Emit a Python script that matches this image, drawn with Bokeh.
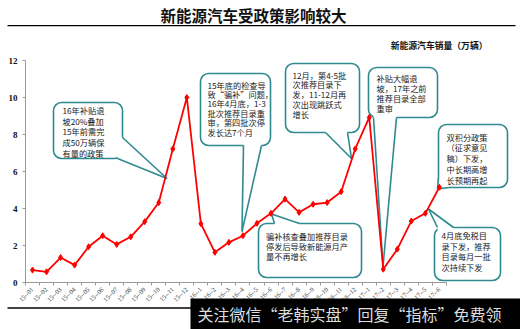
import math
from bokeh.plotting import figure
from bokeh.models import Range1d, FixedTicker, Label, BoxAnnotation
from bokeh.core.properties import value
from bokeh.embed import file_html
from bokeh.resources import INLINE

# ---------------- data ----------------
title_text = "新能源汽车受政策影响较大"
subtitle_text = "新能源汽车销量（万辆）"
months = (["15--%02d" % m for m in range(1, 13)]
          + ["16--%d" % m for m in range(1, 13)]
          + ["17--%d" % m for m in range(1, 7)])
sales = [0.67, 0.58, 1.35, 0.94, 1.93, 2.53, 2.06, 2.47, 3.29, 4.32, 7.22, 10.0,
         3.18, 1.63, 2.17, 2.53, 3.2, 3.74, 4.51, 3.79, 4.23, 4.32, 4.91, 7.22, 8.92,
         0.72, 1.8, 3.32, 3.74, 5.15]
y_ticks = [0, 2, 4, 6, 8, 10, 12]

note1 = ["16年补贴退", "坡20%叠加", "15年前需完", "成50万辆保", "有量的政策"]
note2 = ["15年底的检查导", "致“骗补”问题，", "16年4月底，1-3", "批次推荐目录重", "审，第四批次停", "发长达7个月"]
note3 = ["12月，第4-5批", "次推荐目录下", "发，11-12月再", "次出现跳跃式", "增长"]
note4 = ["补贴大幅退", "坡，17年之前", "推荐目录全部", "重审"]
note5 = ["双积分政策", "（征求意见", "稿）下发，", "中长期高增", "长预期再起"]
note6 = ["骗补核查叠加推荐目录", "停发后导致新能源月产", "量不再增长"]
note7 = ["4月底免税目", "录下发，推荐", "目录每月一批", "次持续下发"]
watermark_text = "关注微信“老韩实盘”回复“指标”免费领"

# ---------------- layout (pixel geometry of the frame) ----------------
W, H = 520, 329
AX_LEFT = 25        # pixel x of the y axis (x = -0.5)
AX_ZERO = 282       # pixel y of value 0
PX_UNIT = 18.5      # pixels per unit of sales
DXP = 14.03         # pixels per month
X0 = -0.5 - AX_LEFT / DXP
X1 = X0 + W / DXP
Y0 = -(H - AX_ZERO) / PX_UNIT
Y1 = Y0 + H / PX_UNIT
RED = "#FF0000"
TEAL = "#2F8A8F"
CJK = "Noto Sans CJK SC"


def dx(px):
    return X0 + px / DXP


def dy(py):
    return Y1 - py / PX_UNIT


p = figure(width=W, height=H, output_backend="svg", toolbar_location=None,
           x_range=Range1d(X0, X1), y_range=Range1d(Y0, Y1),
           min_border=0, min_border_left=0, min_border_right=0,
           min_border_top=0, min_border_bottom=0)
p.outline_line_color = None
p.grid.visible = False
p.background_fill_color = "white"
p.border_fill_color = "white"

# axes (drawn at fixed data locations inside the frame)
xs = list(range(len(months)))
p.xaxis.fixed_location = 0
p.xaxis.ticker = FixedTicker(ticks=xs, minor_ticks=[i - 0.5 for i in range(len(months) + 1)])
p.xaxis.major_label_overrides = {i: m for i, m in enumerate(months)}
p.xaxis.major_label_orientation = math.pi / 4
p.xaxis.major_label_text_font = "Liberation Serif"
p.xaxis.major_label_text_font_size = "6.5px"
p.xaxis.major_label_text_color = "#333333"
p.xaxis.major_label_standoff = 3
p.xaxis.major_tick_out = 0
p.xaxis.major_tick_in = 0
p.xaxis.minor_tick_out = 3
p.xaxis.minor_tick_in = 0
p.xaxis.minor_tick_line_color = "#999999"
p.xaxis.axis_line_color = "#999999"
p.xaxis.bounds = (-0.5, len(months) - 0.5)

p.yaxis.fixed_location = -0.5
p.yaxis.ticker = FixedTicker(ticks=y_ticks)
p.yaxis.bounds = (0, 12)
p.yaxis.major_label_text_font = "Liberation Serif"
p.yaxis.major_label_text_font_style = "bold"
p.yaxis.major_label_text_font_size = "9px"
p.yaxis.major_label_text_color = "#111111"
p.yaxis.major_label_standoff = 5
p.yaxis.major_tick_out = 3
p.yaxis.major_tick_in = 0
p.yaxis.minor_tick_line_color = None
p.yaxis.axis_line_color = "#999999"
p.yaxis.major_tick_line_color = "#999999"

# ---------------- callouts ----------------
callouts = [
    dict(box=(53, 102, 122, 158), tail=[(122, 137), (166.5, 178), (117, 158)], lines=note1, tx=62, ty=109.5, step=10.7),
    dict(box=(200, 73, 270, 145), tail=[(243, 145), (241.5, 231), (261, 145)], lines=note2, tx=207, ty=84, step=9.4),
    dict(box=(285, 63, 359, 132), tail=[(325, 132), (351, 158), (347, 132)], lines=note3, tx=292, ty=74, step=9.8),
    dict(box=(368, 67, 437, 117), tail=[(373, 117), (382.5, 266), (396, 117)], lines=note4, tx=376, ty=77.5, step=10),
    dict(box=(438, 124, 507, 187), tail=[(438, 177), (437, 188.5), (448, 187)], lines=note5, tx=446, ty=136, step=10.8),
    dict(box=(258, 223, 361, 277), tail=[(274, 223), (271, 213.5), (299, 223)], lines=note6, tx=265.5, ty=235, step=10),
    dict(box=(434, 227, 500, 280), tail=[(437, 227), (428, 208.5), (453, 227)], lines=note7, tx=441, ty=234.5, step=10.6),
]


def inset(pt, box):
    L, T, R, B = box
    x, y = pt
    ox = oy = 0
    if y >= B - 0.5:
        oy = -2.5
    if y <= T + 0.5:
        oy = 2.5
    if x >= R - 0.5:
        ox = -2.5
    if x <= L + 0.5:
        ox = 2.5
    return (x + ox, y + oy)


for c in callouts:
    L, T, R, B = c["box"]
    p.quad(left=[dx(L)], right=[dx(R)], top=[dy(T)], bottom=[dy(B)], border_radius=8,
           fill_color="white", line_color=TEAL, line_width=1.6)
    a, tip, b = c["tail"]
    ai, bi = inset(a, c["box"]), inset(b, c["box"])
    poly = [ai, a, tip, b, bi]
    p.patch(x=[dx(q[0]) for q in poly], y=[dy(q[1]) for q in poly],
            fill_color="white", line_color=None)
    p.multi_line(xs=[[dx(a[0]), dx(tip[0])], [dx(b[0]), dx(tip[0])]],
                 ys=[[dy(a[1]), dy(tip[1])], [dy(b[1]), dy(tip[1])]],
                 line_color=TEAL, line_width=1.6)
    n = len(c["lines"])
    p.text(x=[dx(c["tx"])] * n, y=[dy(c["ty"] + i * c["step"]) for i in range(n)],
           text=c["lines"], text_font=value(CJK), text_font_size="8.2px",
           text_color="#222222", text_baseline="middle", text_align="left")

# ---------------- series ----------------
p.line(x=xs, y=sales, line_color=RED, line_width=1.8)
p.scatter(x=xs, y=sales, marker="diamond", size=6, fill_color=RED, line_color=RED)

# ---------------- titles & decorations ----------------
p.add_layout(Label(x=dx(253), y=dy(14), text=title_text, text_align="center",
                   text_baseline="middle", text_font=CJK, text_font_size="15.5px",
                   text_font_style="bold", text_color="#111111"))
p.add_layout(BoxAnnotation(left=dx(7), right=dx(515), top=dy(24.4), bottom=dy(25.8),
                           fill_color="black", fill_alpha=1, line_color=None))
p.add_layout(Label(x=dx(487), y=dy(45), text=subtitle_text, text_align="right",
                   text_baseline="middle", text_font=CJK, text_font_size="8.8px",
                   text_font_style="bold", text_color="#111111"))
p.add_layout(BoxAnnotation(left=dx(7), right=dx(515), top=dy(306.8), bottom=dy(308.2),
                           fill_color="black", fill_alpha=1, line_color=None))
p.add_layout(BoxAnnotation(left=dx(190), right=dx(522), top=dy(298), bottom=dy(332),
                           fill_color="black", fill_alpha=1, line_color=None))
p.add_layout(Label(x=dx(197), y=dy(313.5), text=watermark_text, text_align="left",
                   text_baseline="middle", text_font=CJK, text_font_size="16px",
                   text_color="#dddddd"))

open("out.html", "w").write(file_html(p, INLINE))
